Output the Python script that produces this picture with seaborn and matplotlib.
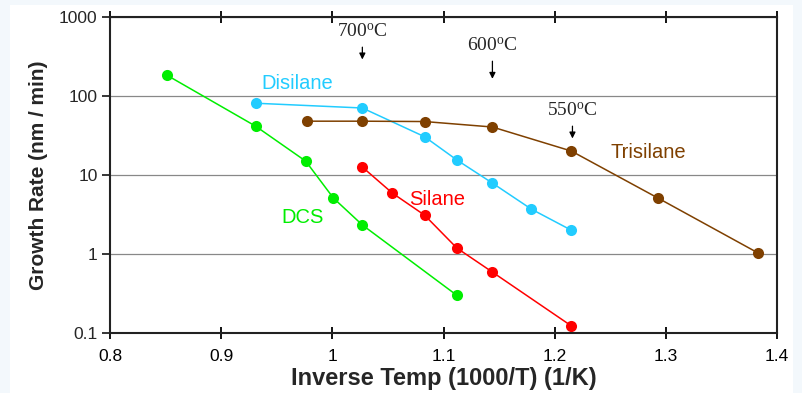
import numpy as np
import pandas as pd
import matplotlib
matplotlib.use("Agg")
import matplotlib.pyplot as plt
import seaborn as sns
from matplotlib.patches import Rectangle

# Data -------------------------------------------------------------------------
dcs_x = [0.851, 0.931, 0.976, 1.001, 1.027, 1.112]
dcs_y = [184, 41.5, 15, 5.1, 2.33, 0.30]

disilane_x = [0.931, 1.027, 1.083, 1.112, 1.144, 1.179, 1.215]
disilane_y = [81, 70.5, 30.5, 15.5, 7.9, 3.7, 2.0]

silane_x = [1.027, 1.054, 1.083, 1.112, 1.144, 1.215]
silane_y = [12.6, 5.9, 3.1, 1.19, 0.59, 0.123]

trisilane_x = [0.977, 1.027, 1.083, 1.144, 1.215, 1.293, 1.383]
trisilane_y = [48, 48, 47.5, 40.5, 20.1, 5.1, 1.03]

gases = ["DCS", "Disilane", "Silane", "Trisilane"]
colors = {"DCS": "#00ee00", "Disilane": "#22ccff", "Silane": "#ff0000", "Trisilane": "#7f4000"}

df = pd.concat([
    pd.DataFrame({"x": dcs_x, "y": dcs_y, "gas": "DCS"}),
    pd.DataFrame({"x": disilane_x, "y": disilane_y, "gas": "Disilane"}),
    pd.DataFrame({"x": silane_x, "y": silane_y, "gas": "Silane"}),
    pd.DataFrame({"x": trisilane_x, "y": trisilane_y, "gas": "Trisilane"}),
])

# Style ------------------------------------------------------------------------
sns.set_style("white")
plt.rcParams["font.family"] = ["Liberation Sans", "DejaVu Sans"]
plt.rcParams["mathtext.fontset"] = "custom"
plt.rcParams["mathtext.rm"] = "Liberation Serif"

fig = plt.figure(figsize=(8.02, 3.93), dpi=100, facecolor="#f3f8fc")
fig.patches.append(Rectangle((10 / 802, 0), 783 / 802, 388 / 393, transform=fig.transFigure,
                             facecolor="white", edgecolor="none", zorder=-10))
ax = fig.add_axes([110 / 802, 1 - 333 / 393, 667 / 802, 316 / 393])
ax.set_zorder(5)
ax.set_facecolor("white")

sns.lineplot(data=df, x="x", y="y", hue="gas", palette=colors, hue_order=gases,
             marker="o", markersize=8, markeredgewidth=0, linewidth=1.1,
             sort=False, legend=False, ax=ax)

ax.set_yscale("log")
ax.set_xlim(0.8, 1.4)
ax.set_ylim(0.1, 1000)
ax.set_xticks([0.8, 0.9, 1.0, 1.1, 1.2, 1.3, 1.4])
ax.set_xticklabels(["0.8", "0.9", "1", "1.1", "1.2", "1.3", "1.4"])
ax.set_yticks([0.1, 1, 10, 100, 1000])
ax.set_yticklabels(["0.1", "1", "10", "100", "1000"])
ax.minorticks_off()
ax.yaxis.grid(True, color="#888888", linewidth=0.9)
ax.tick_params(axis="x", which="major", direction="inout", length=9, width=1.3,
               top=True, bottom=True, labelsize=12.5, pad=7, colors="black")
ax.tick_params(axis="y", which="major", direction="out", length=6, width=1.3,
               left=True, labelsize=12.5, pad=3)
for s in ax.spines.values():
    s.set_color("#222222")
    s.set_linewidth(1.5)

ax.set_xlabel("Inverse Temp (1000/T) (1/K)", fontsize=17, fontweight="bold", labelpad=2)
ax.set_ylabel("Growth Rate (nm / min)", fontsize=15, fontweight="bold", labelpad=8)

# series labels
ax.text(0.968, 142, "Disilane", color=colors["Disilane"], fontsize=14.5, ha="center", va="center")
ax.text(1.094, 4.83, "Silane", color=colors["Silane"], fontsize=14.5, ha="center", va="center")
ax.text(0.973, 2.94, "DCS", color=colors["DCS"], fontsize=14.5, ha="center", va="center")
ax.text(1.284, 19.0, "Trisilane", color=colors["Trisilane"], fontsize=14.5, ha="center", va="center")

# temperature markers
arrow = dict(arrowstyle="-|>", color="black", lw=0.9, mutation_scale=9, shrinkA=2, shrinkB=0)
ax.annotate(r"$\mathrm{700^{o}C}$", xy=(1.027, 290), xytext=(1.027, 640), ha="center", va="center",
            fontsize=14, arrowprops=arrow)
ax.annotate(r"$\mathrm{600^{o}C}$", xy=(1.144, 165), xytext=(1.144, 425), ha="center", va="center",
            fontsize=14, arrowprops=arrow)
ax.annotate(r"$\mathrm{550^{o}C}$", xy=(1.216, 29), xytext=(1.216, 64), ha="center", va="center",
            fontsize=14, arrowprops=arrow)

fig.savefig("out.png", dpi=100, facecolor=fig.get_facecolor())
